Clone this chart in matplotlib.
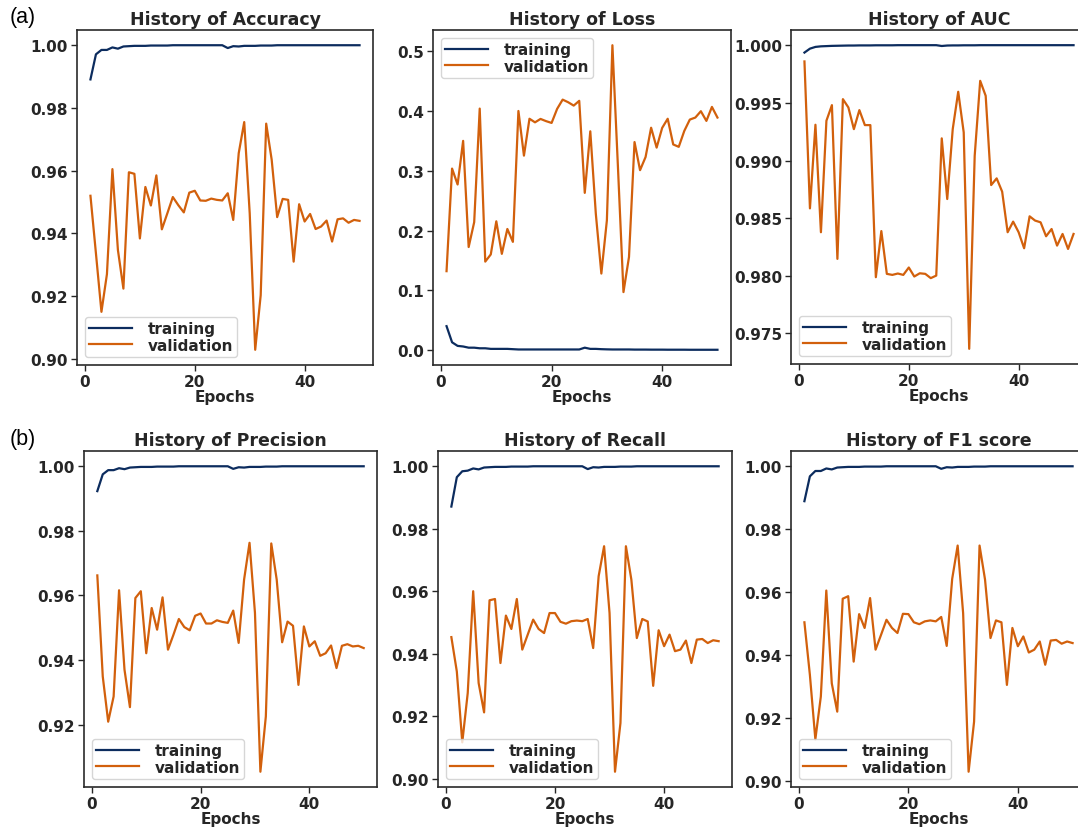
import matplotlib
matplotlib.use("Agg")
import matplotlib.pyplot as plt
import numpy as np

plt.rcParams["font.family"] = ["DejaVu Sans"]
plt.rcParams["font.weight"] = "bold"
plt.rcParams["axes.titleweight"] = "bold"
plt.rcParams["axes.labelweight"] = "bold"

epochs = np.arange(1, 51)

# --- training curves ---
acc_train = [0.9891, 0.9971, 0.9985, 0.9985, 0.9993, 0.9989, 0.9996, 0.9997, 0.9998, 0.9998,
             0.9998, 0.9999, 0.9999, 0.9999, 0.9999, 1.0, 1.0, 1.0, 1.0, 1.0,
             1.0, 1.0, 1.0, 1.0, 1.0, 0.9991, 0.9997, 0.9996, 0.9998, 0.9998,
             0.9998, 0.9999, 0.9999, 0.9999, 1.0, 1.0, 1.0, 1.0, 1.0, 1.0,
             1.0, 1.0, 1.0, 1.0, 1.0, 1.0, 1.0, 1.0, 1.0, 1.0]
loss_train = [0.040, 0.013, 0.007, 0.006, 0.004, 0.004, 0.003, 0.003, 0.002, 0.002,
              0.002, 0.002, 0.0015, 0.001, 0.001, 0.001, 0.001, 0.001, 0.001, 0.001,
              0.001, 0.001, 0.001, 0.001, 0.001, 0.004, 0.002, 0.002, 0.0015, 0.0012,
              0.001, 0.001, 0.001, 0.001, 0.0008, 0.0008, 0.0008, 0.0007, 0.0007, 0.0007,
              0.0006, 0.0006, 0.0006, 0.0006, 0.0005, 0.0005, 0.0005, 0.0005, 0.0005, 0.0005]
auc_train = [0.99936, 0.9997, 0.99985, 0.9999, 0.99992, 0.99994, 0.99995, 0.99996, 0.99997, 0.99997,
             0.99998, 0.99998, 0.99998, 0.99999, 0.99999, 0.99999, 0.99999, 1.0, 1.0, 1.0,
             1.0, 1.0, 1.0, 1.0, 1.0, 0.99993, 0.99997, 0.99998, 0.99998, 0.99999,
             0.99999, 0.99999, 1.0, 1.0, 1.0, 1.0, 1.0, 1.0, 1.0, 1.0,
             1.0, 1.0, 1.0, 1.0, 1.0, 1.0, 1.0, 1.0, 1.0, 1.0]
prec_train = [0.9923, 0.9975, 0.9988, 0.9988, 0.9994, 0.9991, 0.9996, 0.9997, 0.9998, 0.9998,
              0.9998, 0.9999, 0.9999, 0.9999, 0.9999, 1.0, 1.0, 1.0, 1.0, 1.0,
              1.0, 1.0, 1.0, 1.0, 1.0, 0.9992, 0.9997, 0.9996, 0.9998, 0.9998,
              0.9998, 0.9999, 0.9999, 0.9999, 1.0, 1.0, 1.0, 1.0, 1.0, 1.0,
              1.0, 1.0, 1.0, 1.0, 1.0, 1.0, 1.0, 1.0, 1.0, 1.0]
rec_train = [0.9871, 0.9965, 0.9984, 0.9986, 0.9993, 0.9990, 0.9996, 0.9997, 0.9998, 0.9998,
             0.9998, 0.9999, 0.9999, 0.9999, 0.9999, 1.0, 1.0, 1.0, 1.0, 1.0,
             1.0, 1.0, 1.0, 1.0, 1.0, 0.9991, 0.9997, 0.9996, 0.9998, 0.9998,
             0.9998, 0.9999, 0.9999, 0.9999, 1.0, 1.0, 1.0, 1.0, 1.0, 1.0,
             1.0, 1.0, 1.0, 1.0, 1.0, 1.0, 1.0, 1.0, 1.0, 1.0]
f1_train = [0.9889, 0.9968, 0.9985, 0.9985, 0.9993, 0.9990, 0.9996, 0.9997, 0.9998, 0.9998,
            0.9998, 0.9999, 0.9999, 0.9999, 0.9999, 1.0, 1.0, 1.0, 1.0, 1.0,
            1.0, 1.0, 1.0, 1.0, 1.0, 0.9992, 0.9997, 0.9996, 0.9998, 0.9998,
            0.9998, 0.9999, 0.9999, 0.9999, 1.0, 1.0, 1.0, 1.0, 1.0, 1.0,
            1.0, 1.0, 1.0, 1.0, 1.0, 1.0, 1.0, 1.0, 1.0, 1.0]

# --- validation curves ---
acc_val = [0.952, 0.9336, 0.915, 0.927, 0.9605, 0.9347, 0.9224, 0.9595, 0.959, 0.9384,
           0.9548, 0.9489, 0.9585, 0.9413, 0.9464, 0.9516, 0.949, 0.9467, 0.953, 0.9536,
           0.9505, 0.9504, 0.9511, 0.9507, 0.9505, 0.9528, 0.9443, 0.9656, 0.9755, 0.9464,
           0.9029, 0.9203, 0.975, 0.9635, 0.9452, 0.951, 0.9507, 0.931, 0.9493, 0.9438,
           0.9462, 0.9414, 0.9422, 0.9441, 0.9374, 0.9445, 0.9448, 0.9434, 0.9443, 0.944]
loss_val = [0.132, 0.3036, 0.277, 0.350, 0.1724, 0.214, 0.404, 0.148, 0.160, 0.2154,
            0.161, 0.2026, 0.181, 0.400, 0.3253, 0.387, 0.381, 0.3867, 0.383, 0.380,
            0.4035, 0.419, 0.4146, 0.409, 0.417, 0.263, 0.366, 0.228, 0.128, 0.217,
            0.510, 0.3064, 0.097, 0.1557, 0.348, 0.301, 0.323, 0.372, 0.3387, 0.3717,
            0.387, 0.344, 0.340, 0.3666, 0.3856, 0.389, 0.3996, 0.3834, 0.4068, 0.389]
auc_val = [0.99859, 0.98585, 0.9931, 0.98378, 0.99345, 0.9948, 0.98147, 0.99532, 0.9946, 0.99272,
           0.99437, 0.99307, 0.99307, 0.97988, 0.98388, 0.98017, 0.98008, 0.9802, 0.98008, 0.98072,
           0.97994, 0.98022, 0.98017, 0.9798, 0.98002, 0.99192, 0.98666, 0.99272, 0.99596, 0.99244,
           0.97367, 0.99041, 0.99691, 0.99561, 0.98787, 0.98845, 0.9873, 0.98378, 0.9847, 0.98378,
           0.98239, 0.98516, 0.98479, 0.98464, 0.98343, 0.98406, 0.98262, 0.98363, 0.98233, 0.98363]
prec_val = [0.9662, 0.9349, 0.9209, 0.9287, 0.9616, 0.937, 0.9254, 0.9592, 0.9613, 0.9421,
            0.9561, 0.9494, 0.9594, 0.9432, 0.9478, 0.9527, 0.9502, 0.9492, 0.9537, 0.9544,
            0.9513, 0.9513, 0.9523, 0.9518, 0.9515, 0.9553, 0.9453, 0.9649, 0.9763, 0.9546,
            0.9054, 0.9225, 0.9761, 0.9649, 0.9455, 0.9519, 0.9506, 0.9323, 0.9504, 0.9442,
            0.9458, 0.9413, 0.9421, 0.9445, 0.9375, 0.9444, 0.9449, 0.9442, 0.9444, 0.9437]
rec_val = [0.9453, 0.9343, 0.9116, 0.9274, 0.960, 0.9306, 0.9212, 0.9571, 0.9575, 0.937,
           0.9522, 0.9479, 0.9575, 0.9413, 0.9461, 0.9509, 0.9479, 0.9466, 0.953, 0.953,
           0.9502, 0.9496, 0.9504, 0.9506, 0.9504, 0.9511, 0.9418, 0.9648, 0.9744, 0.953,
           0.9022, 0.9178, 0.9744, 0.9637, 0.945, 0.9511, 0.9503, 0.9297, 0.9475, 0.9424,
           0.9461, 0.9408, 0.9413, 0.9442, 0.937, 0.9445, 0.9447, 0.9434, 0.9443, 0.944]
f1_val = [0.9504, 0.9337, 0.9132, 0.9268, 0.9605, 0.931, 0.922, 0.9579, 0.9587, 0.9379,
          0.953, 0.9486, 0.9581, 0.9417, 0.9464, 0.9512, 0.9486, 0.947, 0.9531, 0.953,
          0.9504, 0.9498, 0.9507, 0.951, 0.9507, 0.9521, 0.9429, 0.9642, 0.9748, 0.9533,
          0.9029, 0.9188, 0.9748, 0.964, 0.9454, 0.951, 0.9504, 0.9305, 0.9486, 0.9428,
          0.9459, 0.9408, 0.9417, 0.9443, 0.9369, 0.9446, 0.9448, 0.9436, 0.9443, 0.9438]

titles = ["History of Accuracy", "History of Loss", "History of AUC",
          "History of Precision", "History of Recall", "History of F1 score"]
train_series = [acc_train, loss_train, auc_train, prec_train, rec_train, f1_train]
val_series = [acc_val, loss_val, auc_val, prec_val, rec_val, f1_val]
legend_loc = ["lower left", "upper left", "lower left", "lower left", "lower left", "lower left"]
xticks = [0, 20, 40]

TRAIN_C = "#0c2c5e"
VAL_C = "#d2600c"
TEXT_C = "#262626"

W, H = 1078, 828
fig = plt.figure(figsize=(W / 100, H / 100), dpi=100)
fig.patch.set_facecolor("white")

# axes boxes in pixels: left, top, right, bottom
boxes = [(77, 31, 373, 366), (433, 31, 731, 366), (791, 31, 1087, 365),
         (84, 452, 377, 788), (438, 452, 732, 788), (791, 452, 1086, 788)]

for i, (l, t, r, b) in enumerate(boxes):
    ax = fig.add_axes([l / W, 1 - b / H, (r - l) / W, (b - t) / H])
    if i % 3 == 1:
        # middle panels sit on top, like the pasted images in the original
        ax.set_zorder(3)
        ax.patch.set_alpha(0)
    ax.plot(epochs, train_series[i], color=TRAIN_C, lw=1.6, label="training")
    ax.plot(epochs, val_series[i], color=VAL_C, lw=1.6, label="validation")
    ax.set_xticks(xticks)
    ax.set_title(titles[i], fontsize=12.5, pad=4, color=TEXT_C)
    ax.set_xlabel("Epochs", fontsize=11, labelpad=0, color=TEXT_C)
    ax.tick_params(labelsize=11, width=1.0, length=4, pad=2.5, colors=TEXT_C)
    for s in ax.spines.values():
        s.set_linewidth(1.2)
        s.set_color("#2a2a2a")
    leg = ax.legend(loc=legend_loc[i], fontsize=11, handlelength=2.8,
                    labelspacing=0.1, borderpad=0.3, handletextpad=1.0)
    for txt in leg.get_texts():
        txt.set_color(TEXT_C)

fig.text(10 / W, 1 - 18 / H, "(a)", fontsize=15.5, family="Liberation Sans",
         fontweight="normal", va="center")
fig.text(10 / W, 1 - 440 / H, "(b)", fontsize=15.5, family="Liberation Sans",
         fontweight="normal", va="center")

fig.savefig("out.png", dpi=100)
